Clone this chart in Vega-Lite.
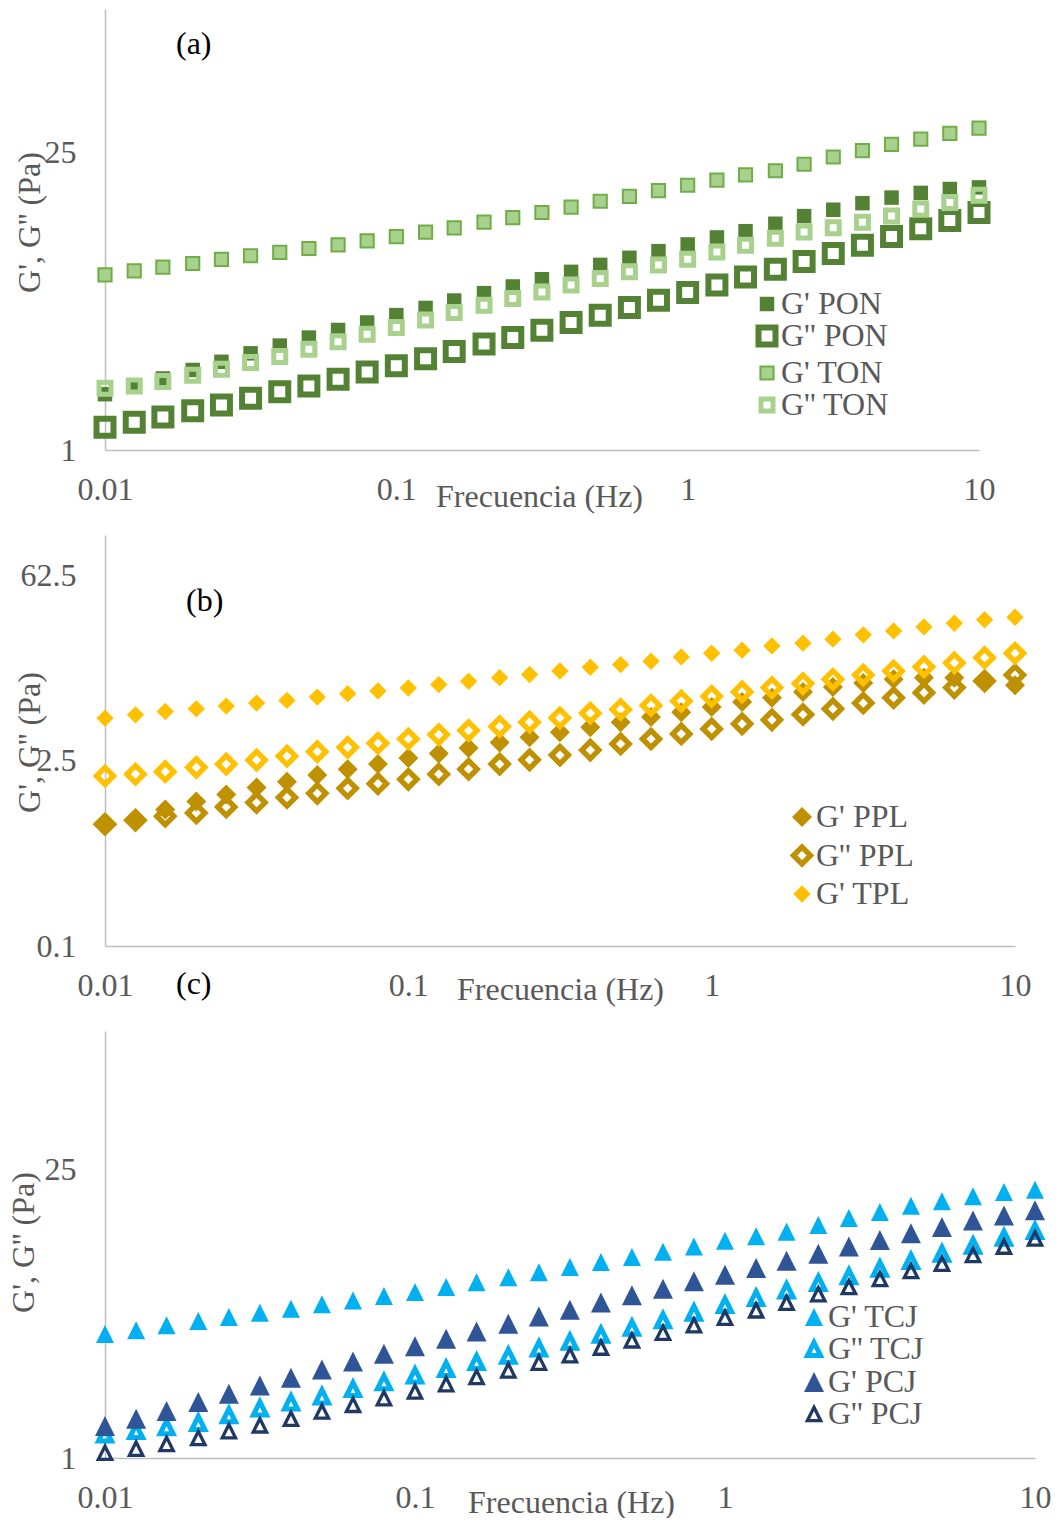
{
  "$schema": "https://vega.github.io/schema/vega-lite/v6.json",
  "background": "white",
  "padding": {"left": 7, "top": 9, "right": 0, "bottom": 0},
  "bounds": "flush",
  "spacing": 85,
  "config": {
    "view": {"stroke": null},
    "font": "Liberation Serif",
    "axis": {"grid": false, "ticks": false, "tickSize": 0, "domainColor": "#BFBFBF", "domainWidth": 1.5, "labelFont": "Liberation Serif", "labelFontSize": 32, "labelColor": "#595959", "labelFlush": false, "labelOverlap": false, "labelBound": false, "titleFont": "Liberation Serif", "titleFontSize": 32, "titleColor": "#595959", "titleFontWeight": "normal", "titleBaseline": "middle", "titleAlign": "center"},
    "axisX": {"labelPadding": 39, "labelBaseline": "middle"},
    "axisY": {"labelPadding": 29, "titleAngle": -90},
    "legend": {"orient": "none", "direction": "vertical", "labelFont": "Liberation Serif", "labelFontSize": 32, "labelColor": "#595959", "labelLimit": 0, "padding": 0, "symbolOffset": 0, "labelOffset": -2},
    "title": {"font": "Liberation Serif", "fontSize": 32, "fontWeight": "normal", "color": "#000000", "anchor": "start", "frame": "group", "offset": 0, "baseline": "middle"}
  },
  "resolve": {
    "scale": {"shape": "independent", "fill": "independent", "stroke": "independent", "size": "independent", "strokeWidth": "independent", "x": "independent", "y": "independent"},
    "legend": {"shape": "independent", "fill": "independent", "stroke": "independent", "size": "independent", "strokeWidth": "independent"}
  },
  "vconcat": [
    {
      "width": 874, "height": 441,
      "title": {"text": "(a)", "dx": 71, "dy": 56},
      "data": {"values": [
        {"f":0.01,"v":1.83,"s":"G' PON"},{"f":0.0126,"v":2.00,"s":"G' PON"},{"f":0.0158,"v":2.17,"s":"G' PON"},{"f":0.02,"v":2.38,"s":"G' PON"},{"f":0.0251,"v":2.60,"s":"G' PON"},{"f":0.0316,"v":2.85,"s":"G' PON"},{"f":0.0398,"v":3.10,"s":"G' PON"},{"f":0.0501,"v":3.38,"s":"G' PON"},{"f":0.0631,"v":3.67,"s":"G' PON"},{"f":0.0794,"v":3.98,"s":"G' PON"},{"f":0.1,"v":4.31,"s":"G' PON"},{"f":0.126,"v":4.66,"s":"G' PON"},{"f":0.158,"v":5.05,"s":"G' PON"},{"f":0.2,"v":5.47,"s":"G' PON"},{"f":0.251,"v":5.88,"s":"G' PON"},{"f":0.316,"v":6.36,"s":"G' PON"},{"f":0.398,"v":6.89,"s":"G' PON"},{"f":0.501,"v":7.43,"s":"G' PON"},{"f":0.631,"v":8.02,"s":"G' PON"},{"f":0.794,"v":8.62,"s":"G' PON"},{"f":1,"v":9.27,"s":"G' PON"},{"f":1.26,"v":10.0,"s":"G' PON"},{"f":1.58,"v":10.7,"s":"G' PON"},{"f":2,"v":11.6,"s":"G' PON"},{"f":2.51,"v":12.6,"s":"G' PON"},{"f":3.16,"v":13.5,"s":"G' PON"},{"f":3.98,"v":14.5,"s":"G' PON"},{"f":5.01,"v":15.4,"s":"G' PON"},{"f":6.31,"v":16.2,"s":"G' PON"},{"f":7.94,"v":16.9,"s":"G' PON"},{"f":10,"v":17.2,"s":"G' PON"},
        {"f":0.01,"v":1.28,"s":"G'' PON"},{"f":0.0126,"v":1.35,"s":"G'' PON"},{"f":0.0158,"v":1.43,"s":"G'' PON"},{"f":0.02,"v":1.53,"s":"G'' PON"},{"f":0.0251,"v":1.63,"s":"G'' PON"},{"f":0.0316,"v":1.75,"s":"G'' PON"},{"f":0.0398,"v":1.88,"s":"G'' PON"},{"f":0.0501,"v":2.00,"s":"G'' PON"},{"f":0.0631,"v":2.15,"s":"G'' PON"},{"f":0.0794,"v":2.33,"s":"G'' PON"},{"f":0.1,"v":2.49,"s":"G'' PON"},{"f":0.126,"v":2.69,"s":"G'' PON"},{"f":0.158,"v":2.91,"s":"G'' PON"},{"f":0.2,"v":3.15,"s":"G'' PON"},{"f":0.251,"v":3.38,"s":"G'' PON"},{"f":0.316,"v":3.66,"s":"G'' PON"},{"f":0.398,"v":3.98,"s":"G'' PON"},{"f":0.501,"v":4.31,"s":"G'' PON"},{"f":0.631,"v":4.68,"s":"G'' PON"},{"f":0.794,"v":5.07,"s":"G'' PON"},{"f":1,"v":5.51,"s":"G'' PON"},{"f":1.26,"v":5.98,"s":"G'' PON"},{"f":1.58,"v":6.52,"s":"G'' PON"},{"f":2,"v":7.09,"s":"G'' PON"},{"f":2.51,"v":7.71,"s":"G'' PON"},{"f":3.16,"v":8.41,"s":"G'' PON"},{"f":3.98,"v":9.20,"s":"G'' PON"},{"f":5.01,"v":10.1,"s":"G'' PON"},{"f":6.31,"v":11.0,"s":"G'' PON"},{"f":7.94,"v":12.0,"s":"G'' PON"},{"f":10,"v":13.1,"s":"G'' PON"},
        {"f":0.01,"v":6.67,"s":"G' TON"},{"f":0.0126,"v":6.96,"s":"G' TON"},{"f":0.0158,"v":7.25,"s":"G' TON"},{"f":0.02,"v":7.54,"s":"G' TON"},{"f":0.0251,"v":7.88,"s":"G' TON"},{"f":0.0316,"v":8.20,"s":"G' TON"},{"f":0.0398,"v":8.50,"s":"G' TON"},{"f":0.0501,"v":8.87,"s":"G' TON"},{"f":0.0631,"v":9.23,"s":"G' TON"},{"f":0.0794,"v":9.64,"s":"G' TON"},{"f":0.1,"v":10.1,"s":"G' TON"},{"f":0.126,"v":10.6,"s":"G' TON"},{"f":0.158,"v":11.1,"s":"G' TON"},{"f":0.2,"v":11.8,"s":"G' TON"},{"f":0.251,"v":12.4,"s":"G' TON"},{"f":0.316,"v":13.1,"s":"G' TON"},{"f":0.398,"v":13.9,"s":"G' TON"},{"f":0.501,"v":14.8,"s":"G' TON"},{"f":0.631,"v":15.6,"s":"G' TON"},{"f":0.794,"v":16.6,"s":"G' TON"},{"f":1,"v":17.6,"s":"G' TON"},{"f":1.26,"v":18.6,"s":"G' TON"},{"f":1.58,"v":19.7,"s":"G' TON"},{"f":2,"v":20.6,"s":"G' TON"},{"f":2.51,"v":22.1,"s":"G' TON"},{"f":3.16,"v":23.9,"s":"G' TON"},{"f":3.98,"v":25.6,"s":"G' TON"},{"f":5.01,"v":27.4,"s":"G' TON"},{"f":6.31,"v":29.0,"s":"G' TON"},{"f":7.94,"v":30.9,"s":"G' TON"},{"f":10,"v":32.7,"s":"G' TON"},
        {"f":0.01,"v":1.95,"s":"G'' TON"},{"f":0.0126,"v":2.00,"s":"G'' TON"},{"f":0.0158,"v":2.10,"s":"G'' TON"},{"f":0.02,"v":2.25,"s":"G'' TON"},{"f":0.0251,"v":2.40,"s":"G'' TON"},{"f":0.0316,"v":2.58,"s":"G'' TON"},{"f":0.0398,"v":2.75,"s":"G'' TON"},{"f":0.0501,"v":2.98,"s":"G'' TON"},{"f":0.0631,"v":3.23,"s":"G'' TON"},{"f":0.0794,"v":3.50,"s":"G'' TON"},{"f":0.1,"v":3.77,"s":"G'' TON"},{"f":0.126,"v":4.09,"s":"G'' TON"},{"f":0.158,"v":4.44,"s":"G'' TON"},{"f":0.2,"v":4.80,"s":"G'' TON"},{"f":0.251,"v":5.16,"s":"G'' TON"},{"f":0.316,"v":5.54,"s":"G'' TON"},{"f":0.398,"v":5.98,"s":"G'' TON"},{"f":0.501,"v":6.41,"s":"G'' TON"},{"f":0.631,"v":6.89,"s":"G'' TON"},{"f":0.794,"v":7.41,"s":"G'' TON"},{"f":1,"v":7.90,"s":"G'' TON"},{"f":1.26,"v":8.55,"s":"G'' TON"},{"f":1.58,"v":9.20,"s":"G'' TON"},{"f":2,"v":9.92,"s":"G'' TON"},{"f":2.51,"v":10.6,"s":"G'' TON"},{"f":3.16,"v":11.1,"s":"G'' TON"},{"f":3.98,"v":11.8,"s":"G'' TON"},{"f":5.01,"v":12.6,"s":"G'' TON"},{"f":6.31,"v":13.6,"s":"G'' TON"},{"f":7.94,"v":14.6,"s":"G'' TON"},{"f":10,"v":15.8,"s":"G'' TON"}
      ]},
      "mark": {"type": "point", "filled": true, "opacity": 1},
      "encoding": {
        "x": {"field": "f", "type": "quantitative", "scale": {"type": "log", "domain": [0.01, 10], "nice": false}, "axis": {"values": [0.01, 0.1, 1, 10], "format": "~g", "title": "Frecuencia (Hz)", "titleX": 434, "titleY": 46}},
        "y": {"field": "v", "type": "quantitative", "scale": {"type": "log", "domain": [1, 118.8], "nice": false}, "axis": {"values": [1, 25], "format": "~g", "title": "G', G'' (Pa)", "titleX": -76, "titleY": 213}},
        "shape": {"field": "s", "type": "nominal", "scale": {"domain": ["G' PON", "G'' PON", "G' TON", "G'' TON"], "range": ["square", "square", "square", "square"]}, "legend": {"title": null, "legendX": 646, "legendY": 279, "rowPadding": -5.5}},
        "fill": {"field": "s", "type": "nominal", "scale": {"domain": ["G' PON", "G'' PON", "G' TON", "G'' TON"], "range": ["#548235", "transparent", "#A9D18E", "transparent"]}},
        "stroke": {"field": "s", "type": "nominal", "scale": {"domain": ["G' PON", "G'' PON", "G' TON", "G'' TON"], "range": ["#548235", "#548235", "#70AD47", "#A9D18E"]}},
        "size": {"field": "s", "type": "nominal", "scale": {"type": "ordinal", "domain": ["G' PON", "G'' PON", "G' TON", "G'' TON"], "range": [210, 289, 174, 144]}},
        "strokeWidth": {"field": "s", "type": "nominal", "scale": {"type": "ordinal", "domain": ["G' PON", "G'' PON", "G' TON", "G'' TON"], "range": [0, 6, 2, 5]}}
      }
    },
    {
      "width": 910, "height": 411,
      "title": {"text": "(b)", "dx": 81, "dy": 86.5},
      "data": {"values": [
        {"f":0.01,"v":0.835,"s":"G' PPL"},{"f":0.0126,"v":0.90,"s":"G' PPL"},{"f":0.0158,"v":1.07,"s":"G' PPL"},{"f":0.02,"v":1.23,"s":"G' PPL"},{"f":0.0251,"v":1.39,"s":"G' PPL"},{"f":0.0316,"v":1.57,"s":"G' PPL"},{"f":0.0398,"v":1.74,"s":"G' PPL"},{"f":0.0501,"v":1.95,"s":"G' PPL"},{"f":0.0631,"v":2.16,"s":"G' PPL"},{"f":0.0794,"v":2.36,"s":"G' PPL"},{"f":0.1,"v":2.62,"s":"G' PPL"},{"f":0.126,"v":2.84,"s":"G' PPL"},{"f":0.158,"v":3.12,"s":"G' PPL"},{"f":0.2,"v":3.44,"s":"G' PPL"},{"f":0.251,"v":3.76,"s":"G' PPL"},{"f":0.316,"v":4.10,"s":"G' PPL"},{"f":0.398,"v":4.48,"s":"G' PPL"},{"f":0.501,"v":4.89,"s":"G' PPL"},{"f":0.631,"v":5.34,"s":"G' PPL"},{"f":0.794,"v":5.82,"s":"G' PPL"},{"f":1,"v":6.36,"s":"G' PPL"},{"f":1.26,"v":6.94,"s":"G' PPL"},{"f":1.58,"v":7.48,"s":"G' PPL"},{"f":2,"v":8.26,"s":"G' PPL"},{"f":2.51,"v":9.02,"s":"G' PPL"},{"f":3.16,"v":9.67,"s":"G' PPL"},{"f":3.98,"v":10.3,"s":"G' PPL"},{"f":5.01,"v":10.6,"s":"G' PPL"},{"f":6.31,"v":10.6,"s":"G' PPL"},{"f":7.94,"v":10.1,"s":"G' PPL"},{"f":10,"v":9.29,"s":"G' PPL"},
        {"f":0.01,"v":0.83,"s":"G'' PPL"},{"f":0.0126,"v":0.89,"s":"G'' PPL"},{"f":0.0158,"v":0.955,"s":"G'' PPL"},{"f":0.02,"v":1.01,"s":"G'' PPL"},{"f":0.0251,"v":1.12,"s":"G'' PPL"},{"f":0.0316,"v":1.21,"s":"G'' PPL"},{"f":0.0398,"v":1.32,"s":"G'' PPL"},{"f":0.0501,"v":1.42,"s":"G'' PPL"},{"f":0.0631,"v":1.55,"s":"G'' PPL"},{"f":0.0794,"v":1.68,"s":"G'' PPL"},{"f":0.1,"v":1.81,"s":"G'' PPL"},{"f":0.126,"v":1.98,"s":"G'' PPL"},{"f":0.158,"v":2.16,"s":"G'' PPL"},{"f":0.2,"v":2.36,"s":"G'' PPL"},{"f":0.251,"v":2.54,"s":"G'' PPL"},{"f":0.316,"v":2.76,"s":"G'' PPL"},{"f":0.398,"v":3.01,"s":"G'' PPL"},{"f":0.501,"v":3.35,"s":"G'' PPL"},{"f":0.631,"v":3.65,"s":"G'' PPL"},{"f":0.794,"v":3.99,"s":"G'' PPL"},{"f":1,"v":4.35,"s":"G'' PPL"},{"f":1.26,"v":4.75,"s":"G'' PPL"},{"f":1.58,"v":5.09,"s":"G'' PPL"},{"f":2,"v":5.59,"s":"G'' PPL"},{"f":2.51,"v":6.17,"s":"G'' PPL"},{"f":3.16,"v":6.82,"s":"G'' PPL"},{"f":3.98,"v":7.48,"s":"G'' PPL"},{"f":5.01,"v":8.17,"s":"G'' PPL"},{"f":6.31,"v":8.92,"s":"G'' PPL"},{"f":7.94,"v":10.0,"s":"G'' PPL"},{"f":10,"v":11.1,"s":"G'' PPL"},
        {"f":0.01,"v":5.24,"s":"G' TPL"},{"f":0.0126,"v":5.56,"s":"G' TPL"},{"f":0.0158,"v":5.89,"s":"G' TPL"},{"f":0.02,"v":6.17,"s":"G' TPL"},{"f":0.0251,"v":6.47,"s":"G' TPL"},{"f":0.0316,"v":6.82,"s":"G' TPL"},{"f":0.0398,"v":7.14,"s":"G' TPL"},{"f":0.0501,"v":7.57,"s":"G' TPL"},{"f":0.0631,"v":8.03,"s":"G' TPL"},{"f":0.0794,"v":8.41,"s":"G' TPL"},{"f":0.1,"v":8.86,"s":"G' TPL"},{"f":0.126,"v":9.40,"s":"G' TPL"},{"f":0.158,"v":9.96,"s":"G' TPL"},{"f":0.2,"v":10.6,"s":"G' TPL"},{"f":0.251,"v":11.2,"s":"G' TPL"},{"f":0.316,"v":11.9,"s":"G' TPL"},{"f":0.398,"v":12.7,"s":"G' TPL"},{"f":0.501,"v":13.3,"s":"G' TPL"},{"f":0.631,"v":14.1,"s":"G' TPL"},{"f":0.794,"v":15.2,"s":"G' TPL"},{"f":1,"v":16.2,"s":"G' TPL"},{"f":1.26,"v":17.1,"s":"G' TPL"},{"f":1.58,"v":18.4,"s":"G' TPL"},{"f":2,"v":19.3,"s":"G' TPL"},{"f":2.51,"v":20.7,"s":"G' TPL"},{"f":3.16,"v":22.3,"s":"G' TPL"},{"f":3.98,"v":23.9,"s":"G' TPL"},{"f":5.01,"v":25.6,"s":"G' TPL"},{"f":6.31,"v":27.3,"s":"G' TPL"},{"f":7.94,"v":29.0,"s":"G' TPL"},{"f":10,"v":30.3,"s":"G' TPL"},
        {"f":0.01,"v":1.92,"s":"G'' TPL"},{"f":0.0126,"v":1.98,"s":"G'' TPL"},{"f":0.0158,"v":2.07,"s":"G'' TPL"},{"f":0.02,"v":2.23,"s":"G'' TPL"},{"f":0.0251,"v":2.36,"s":"G'' TPL"},{"f":0.0316,"v":2.53,"s":"G'' TPL"},{"f":0.0398,"v":2.71,"s":"G'' TPL"},{"f":0.0501,"v":2.93,"s":"G'' TPL"},{"f":0.0631,"v":3.16,"s":"G'' TPL"},{"f":0.0794,"v":3.39,"s":"G'' TPL"},{"f":0.1,"v":3.65,"s":"G'' TPL"},{"f":0.126,"v":3.94,"s":"G'' TPL"},{"f":0.158,"v":4.23,"s":"G'' TPL"},{"f":0.2,"v":4.53,"s":"G'' TPL"},{"f":0.251,"v":4.89,"s":"G'' TPL"},{"f":0.316,"v":5.27,"s":"G'' TPL"},{"f":0.398,"v":5.72,"s":"G'' TPL"},{"f":0.501,"v":6.10,"s":"G'' TPL"},{"f":0.631,"v":6.54,"s":"G'' TPL"},{"f":0.794,"v":7.06,"s":"G'' TPL"},{"f":1,"v":7.66,"s":"G'' TPL"},{"f":1.26,"v":8.27,"s":"G'' TPL"},{"f":1.58,"v":8.92,"s":"G'' TPL"},{"f":2,"v":9.56,"s":"G'' TPL"},{"f":2.51,"v":10.3,"s":"G'' TPL"},{"f":3.16,"v":11.1,"s":"G'' TPL"},{"f":3.98,"v":11.9,"s":"G'' TPL"},{"f":5.01,"v":12.8,"s":"G'' TPL"},{"f":6.31,"v":13.7,"s":"G'' TPL"},{"f":7.94,"v":15.0,"s":"G'' TPL"},{"f":10,"v":16.2,"s":"G'' TPL"}
      ]},
      "mark": {"type": "point", "filled": true, "opacity": 1},
      "encoding": {
        "x": {"field": "f", "type": "quantitative", "scale": {"type": "log", "domain": [0.01, 10], "nice": false}, "axis": {"values": [0.01, 0.1, 1, 10], "format": "~g", "title": "Frecuencia (Hz)", "titleX": 455, "titleY": 43}},
        "y": {"field": "v", "type": "quantitative", "scale": {"type": "log", "domain": [0.1, 126.5], "nice": false}, "axis": {"values": [0.1, 2.5, 62.5], "format": "~g", "title": "G', G'' (Pa)", "titleX": -75.5, "titleY": 207}},
        "shape": {"field": "s", "type": "nominal", "scale": {"domain": ["G' PPL", "G'' PPL", "G' TPL", "G'' TPL"], "range": ["diamond", "diamond", "diamond", "diamond"]}, "legend": {"title": null, "legendX": 681, "legendY": 266, "rowPadding": 2.5, "values": ["G' PPL", "G'' PPL", "G' TPL"]}},
        "fill": {"field": "s", "type": "nominal", "scale": {"domain": ["G' PPL", "G'' PPL", "G' TPL", "G'' TPL"], "range": ["#BF9000", "transparent", "#FFC000", "transparent"]}},
        "stroke": {"field": "s", "type": "nominal", "scale": {"domain": ["G' PPL", "G'' PPL", "G' TPL", "G'' TPL"], "range": ["#BF9000", "#BF9000", "#FFC000", "#FFC000"]}},
        "size": {"field": "s", "type": "nominal", "scale": {"type": "ordinal", "domain": ["G' PPL", "G'' PPL", "G' TPL", "G'' TPL"], "range": [400, 290, 300, 290]}},
        "strokeWidth": {"field": "s", "type": "nominal", "scale": {"type": "ordinal", "domain": ["G' PPL", "G'' PPL", "G' TPL", "G'' TPL"], "range": [0, 5.4, 0, 5.4]}}
      }
    },
    {
      "width": 930, "height": 427,
      "title": {"text": "(c)", "dx": 71, "dy": -26},
      "data": {"values": [
        {"f":0.01,"v":3.99,"s":"G' TCJ"},{"f":0.0126,"v":4.17,"s":"G' TCJ"},{"f":0.0158,"v":4.40,"s":"G' TCJ"},{"f":0.02,"v":4.62,"s":"G' TCJ"},{"f":0.0251,"v":4.83,"s":"G' TCJ"},{"f":0.0316,"v":5.07,"s":"G' TCJ"},{"f":0.0398,"v":5.30,"s":"G' TCJ"},{"f":0.0501,"v":5.56,"s":"G' TCJ"},{"f":0.0631,"v":5.81,"s":"G' TCJ"},{"f":0.0794,"v":6.10,"s":"G' TCJ"},{"f":0.1,"v":6.38,"s":"G' TCJ"},{"f":0.126,"v":6.75,"s":"G' TCJ"},{"f":0.158,"v":7.11,"s":"G' TCJ"},{"f":0.2,"v":7.52,"s":"G' TCJ"},{"f":0.251,"v":7.95,"s":"G' TCJ"},{"f":0.316,"v":8.44,"s":"G' TCJ"},{"f":0.398,"v":8.92,"s":"G' TCJ"},{"f":0.501,"v":9.43,"s":"G' TCJ"},{"f":0.631,"v":10.0,"s":"G' TCJ"},{"f":0.794,"v":10.6,"s":"G' TCJ"},{"f":1,"v":11.3,"s":"G' TCJ"},{"f":1.26,"v":11.9,"s":"G' TCJ"},{"f":1.58,"v":12.5,"s":"G' TCJ"},{"f":2,"v":13.5,"s":"G' TCJ"},{"f":2.51,"v":14.6,"s":"G' TCJ"},{"f":3.16,"v":15.6,"s":"G' TCJ"},{"f":3.98,"v":16.7,"s":"G' TCJ"},{"f":5.01,"v":17.6,"s":"G' TCJ"},{"f":6.31,"v":18.6,"s":"G' TCJ"},{"f":7.94,"v":19.5,"s":"G' TCJ"},{"f":10,"v":20.0,"s":"G' TCJ"},
        {"f":0.01,"v":1.30,"s":"G'' TCJ"},{"f":0.0126,"v":1.35,"s":"G'' TCJ"},{"f":0.0158,"v":1.41,"s":"G'' TCJ"},{"f":0.02,"v":1.48,"s":"G'' TCJ"},{"f":0.0251,"v":1.61,"s":"G'' TCJ"},{"f":0.0316,"v":1.74,"s":"G'' TCJ"},{"f":0.0398,"v":1.86,"s":"G'' TCJ"},{"f":0.0501,"v":1.99,"s":"G'' TCJ"},{"f":0.0631,"v":2.16,"s":"G'' TCJ"},{"f":0.0794,"v":2.33,"s":"G'' TCJ"},{"f":0.1,"v":2.51,"s":"G'' TCJ"},{"f":0.126,"v":2.70,"s":"G'' TCJ"},{"f":0.158,"v":2.92,"s":"G'' TCJ"},{"f":0.2,"v":3.13,"s":"G'' TCJ"},{"f":0.251,"v":3.40,"s":"G'' TCJ"},{"f":0.316,"v":3.66,"s":"G'' TCJ"},{"f":0.398,"v":3.96,"s":"G'' TCJ"},{"f":0.501,"v":4.28,"s":"G'' TCJ"},{"f":0.631,"v":4.65,"s":"G'' TCJ"},{"f":0.794,"v":5.07,"s":"G'' TCJ"},{"f":1,"v":5.52,"s":"G'' TCJ"},{"f":1.26,"v":5.97,"s":"G'' TCJ"},{"f":1.58,"v":6.50,"s":"G'' TCJ"},{"f":2,"v":7.06,"s":"G'' TCJ"},{"f":2.51,"v":7.60,"s":"G'' TCJ"},{"f":3.16,"v":8.28,"s":"G'' TCJ"},{"f":3.98,"v":9.02,"s":"G'' TCJ"},{"f":5.01,"v":9.79,"s":"G'' TCJ"},{"f":6.31,"v":10.7,"s":"G'' TCJ"},{"f":7.94,"v":11.7,"s":"G'' TCJ"},{"f":10,"v":12.6,"s":"G'' TCJ"},
        {"f":0.01,"v":1.43,"s":"G' PCJ"},{"f":0.0126,"v":1.55,"s":"G' PCJ"},{"f":0.0158,"v":1.69,"s":"G' PCJ"},{"f":0.02,"v":1.87,"s":"G' PCJ"},{"f":0.0251,"v":2.05,"s":"G' PCJ"},{"f":0.0316,"v":2.25,"s":"G' PCJ"},{"f":0.0398,"v":2.45,"s":"G' PCJ"},{"f":0.0501,"v":2.69,"s":"G' PCJ"},{"f":0.0631,"v":2.94,"s":"G' PCJ"},{"f":0.0794,"v":3.20,"s":"G' PCJ"},{"f":0.1,"v":3.48,"s":"G' PCJ"},{"f":0.126,"v":3.79,"s":"G' PCJ"},{"f":0.158,"v":4.11,"s":"G' PCJ"},{"f":0.2,"v":4.48,"s":"G' PCJ"},{"f":0.251,"v":4.86,"s":"G' PCJ"},{"f":0.316,"v":5.24,"s":"G' PCJ"},{"f":0.398,"v":5.68,"s":"G' PCJ"},{"f":0.501,"v":6.15,"s":"G' PCJ"},{"f":0.631,"v":6.62,"s":"G' PCJ"},{"f":0.794,"v":7.19,"s":"G' PCJ"},{"f":1,"v":7.74,"s":"G' PCJ"},{"f":1.26,"v":8.34,"s":"G' PCJ"},{"f":1.58,"v":9.05,"s":"G' PCJ"},{"f":2,"v":9.79,"s":"G' PCJ"},{"f":2.51,"v":10.6,"s":"G' PCJ"},{"f":3.16,"v":11.4,"s":"G' PCJ"},{"f":3.98,"v":12.3,"s":"G' PCJ"},{"f":5.01,"v":13.2,"s":"G' PCJ"},{"f":6.31,"v":14.2,"s":"G' PCJ"},{"f":7.94,"v":15.0,"s":"G' PCJ"},{"f":10,"v":15.9,"s":"G' PCJ"},
        {"f":0.01,"v":1.06,"s":"G'' PCJ"},{"f":0.0126,"v":1.11,"s":"G'' PCJ"},{"f":0.0158,"v":1.17,"s":"G'' PCJ"},{"f":0.02,"v":1.25,"s":"G'' PCJ"},{"f":0.0251,"v":1.35,"s":"G'' PCJ"},{"f":0.0316,"v":1.44,"s":"G'' PCJ"},{"f":0.0398,"v":1.55,"s":"G'' PCJ"},{"f":0.0501,"v":1.68,"s":"G'' PCJ"},{"f":0.0631,"v":1.81,"s":"G'' PCJ"},{"f":0.0794,"v":1.95,"s":"G'' PCJ"},{"f":0.1,"v":2.10,"s":"G'' PCJ"},{"f":0.126,"v":2.28,"s":"G'' PCJ"},{"f":0.158,"v":2.47,"s":"G'' PCJ"},{"f":0.2,"v":2.66,"s":"G'' PCJ"},{"f":0.251,"v":2.90,"s":"G'' PCJ"},{"f":0.316,"v":3.15,"s":"G'' PCJ"},{"f":0.398,"v":3.43,"s":"G'' PCJ"},{"f":0.501,"v":3.72,"s":"G'' PCJ"},{"f":0.631,"v":4.05,"s":"G'' PCJ"},{"f":0.794,"v":4.40,"s":"G'' PCJ"},{"f":1,"v":4.79,"s":"G'' PCJ"},{"f":1.26,"v":5.20,"s":"G'' PCJ"},{"f":1.58,"v":5.66,"s":"G'' PCJ"},{"f":2,"v":6.22,"s":"G'' PCJ"},{"f":2.51,"v":6.75,"s":"G'' PCJ"},{"f":3.16,"v":7.38,"s":"G'' PCJ"},{"f":3.98,"v":8.07,"s":"G'' PCJ"},{"f":5.01,"v":8.76,"s":"G'' PCJ"},{"f":6.31,"v":9.65,"s":"G'' PCJ"},{"f":7.94,"v":10.6,"s":"G'' PCJ"},{"f":10,"v":11.6,"s":"G'' PCJ"}
      ]},
      "mark": {"type": "point", "filled": true, "opacity": 1},
      "encoding": {
        "x": {"field": "f", "type": "quantitative", "scale": {"type": "log", "domain": [0.01, 10], "nice": false}, "axis": {"values": [0.01, 0.1, 1, 10], "format": "~g", "title": "Frecuencia (Hz)", "titleX": 466, "titleY": 44}},
        "y": {"field": "v", "type": "quantitative", "scale": {"type": "log", "domain": [1, 117.7], "nice": false}, "axis": {"values": [1, 25], "format": "~g", "title": "G', G'' (Pa)", "titleX": -81.5, "titleY": 211}},
        "shape": {"field": "s", "type": "nominal", "scale": {"domain": ["G' TCJ", "G'' TCJ", "G' PCJ", "G'' PCJ"], "range": ["M0,-1L1,1L-1,1Z", "M0,-1L1,1L-1,1Z", "M0,-1L1,1L-1,1Z", "M0,-1L1,1L-1,1Z"]}, "legend": {"title": null, "legendX": 693, "legendY": 270, "rowPadding": -5.8}},
        "fill": {"field": "s", "type": "nominal", "scale": {"domain": ["G' TCJ", "G'' TCJ", "G' PCJ", "G'' PCJ"], "range": ["#00B0F0", "transparent", "#2F5597", "transparent"]}},
        "stroke": {"field": "s", "type": "nominal", "scale": {"domain": ["G' TCJ", "G'' TCJ", "G' PCJ", "G'' PCJ"], "range": ["#00B0F0", "#00B0F0", "#2F5597", "#203864"]}},
        "size": {"field": "s", "type": "nominal", "scale": {"type": "ordinal", "domain": ["G' TCJ", "G'' TCJ", "G' PCJ", "G'' PCJ"], "range": [324, 169, 400, 177]}},
        "strokeWidth": {"field": "s", "type": "nominal", "scale": {"type": "ordinal", "domain": ["G' TCJ", "G'' TCJ", "G' PCJ", "G'' PCJ"], "range": [0, 5, 0, 3.3]}}
      }
    }
  ]
}
